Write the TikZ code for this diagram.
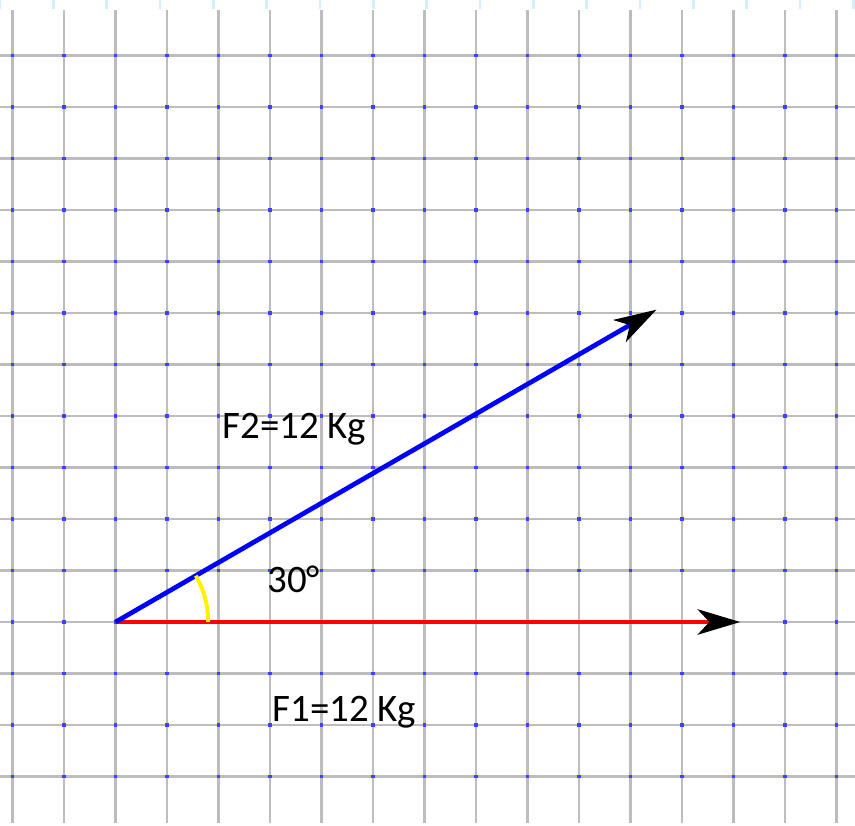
\documentclass[tikz,border=0pt]{standalone}
\usepackage{fontspec}
\setmainfont{Carlito}
\usepackage{tikz}
\usetikzlibrary{arrows.meta, positioning}

\begin{document}
\begin{tikzpicture}[
    gridline/.style={draw=black!26, line width=1.4pt},
    gridtick/.style={draw=cyan!18, line width=1.4pt},
    griddot/.style={fill=blue!75, inner sep=0pt, minimum size=1.7pt, draw=none},
    force/.style={line width=2.6pt, -{Stealth[black, length=23.5pt, width=14pt, inset=6.5pt]}},
    label/.style={font=\fontsize{21.5}{26}\selectfont, inner sep=0pt, anchor=base west}
]
\useasboundingbox (-2.243,-3.942) rectangle (14.359,12.078);

% Grid
\foreach \y in {-3,...,11} \draw[gridline] (-2.243,\y) -- (14.359,\y);
\foreach \x in {-2,...,14} \draw[gridline] (\x,-3.90) -- (\x,11.88);
\foreach \k in {0,...,16} \draw[gridtick] ({(53.33*\k-115.5)/51.5},12.078) -- ({(53.33*\k-115.5)/51.5},11.90);
\foreach \x in {-2,...,14} \foreach \y in {-3,...,11} \node[griddot] at (\x,\y) {};

% Nodes
\coordinate (origin) at (0,0);
\coordinate (f1end) at (12.13,0);
\coordinate (f2end) at (30:12.13);
\node[label] (f2label) at (2.07,3.57) {F2=12 Kg};
\node[label] (anglelabel) at (2.94,0.58) {30°};
\node[label] (f1label) at (3.04,-1.94) {F1=12 Kg};

% Arrows
\draw[force, red] (origin) -- (f1end);
\draw[force, blue] (origin) -- (f2end);
\draw[yellow, line width=2.2pt] (1.8,0) arc[start angle=0, end angle=30, radius=1.8];

\end{tikzpicture}
\end{document}
